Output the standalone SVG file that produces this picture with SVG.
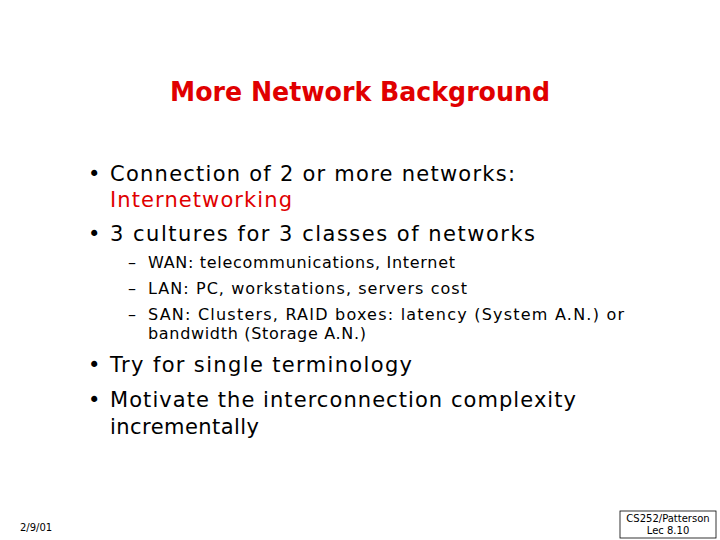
<svg xmlns="http://www.w3.org/2000/svg" width="720" height="540" viewBox="0 0 720 540">
<style>
text{font-family:"DejaVu Sans","Liberation Sans",sans-serif;fill:#000}
.t{font-size:26px;font-weight:bold;fill:#e00000}
.b{font-size:21px}
.s{font-size:16px}
.r{fill:#e00000}
.f{font-size:10px}
</style>
<rect width="720" height="540" fill="#fff"/>
<g id="title"><text class="t" x="170" y="101" textLength="380" lengthAdjust="spacingAndGlyphs">More Network Background</text></g>
<g id="body">
<text class="b" x="88" y="181">•</text>
<text class="b" x="110" y="181" textLength="405" lengthAdjust="spacing">Connection of 2 or more networks:</text>
<text class="b r" x="110" y="207" textLength="182" lengthAdjust="spacing">Internetworking</text>
<text class="b" x="88" y="241">•</text>
<text class="b" x="110" y="241" textLength="425" lengthAdjust="spacing">3 cultures for 3 classes of networks</text>
<text class="s" x="128" y="268">–</text><text class="s" x="148" y="268" textLength="307" lengthAdjust="spacing">WAN: telecommunications, Internet</text>
<text class="s" x="128" y="294">–</text><text class="s" x="148" y="294" textLength="319" lengthAdjust="spacing">LAN:  PC, workstations, servers cost</text>
<text class="s" x="128" y="320">–</text><text class="s" x="148" y="320" textLength="476" lengthAdjust="spacing">SAN: Clusters, RAID boxes: latency (System A.N.) or</text>
<text class="s" x="148" y="339" textLength="218" lengthAdjust="spacing">bandwidth (Storage A.N.)</text>
<text class="b" x="88" y="372">•</text>
<text class="b" x="110" y="372" textLength="302" lengthAdjust="spacing">Try for single terminology</text>
<text class="b" x="88" y="407">•</text>
<text class="b" x="110" y="407" textLength="466" lengthAdjust="spacing">Motivate the interconnection complexity</text>
<text class="b" x="110" y="434" textLength="149" lengthAdjust="spacing">incrementally</text>
</g>
<g id="footer">
<text class="f" x="20" y="531">2/9/01</text>
<rect x="620" y="511" width="96" height="27" fill="none" stroke="#000" stroke-width="0.8"/>
<text class="f" x="668" y="522" text-anchor="middle">CS252/Patterson</text>
<text class="f" x="668" y="534" text-anchor="middle">Lec 8.10</text>
</g>
</svg>
